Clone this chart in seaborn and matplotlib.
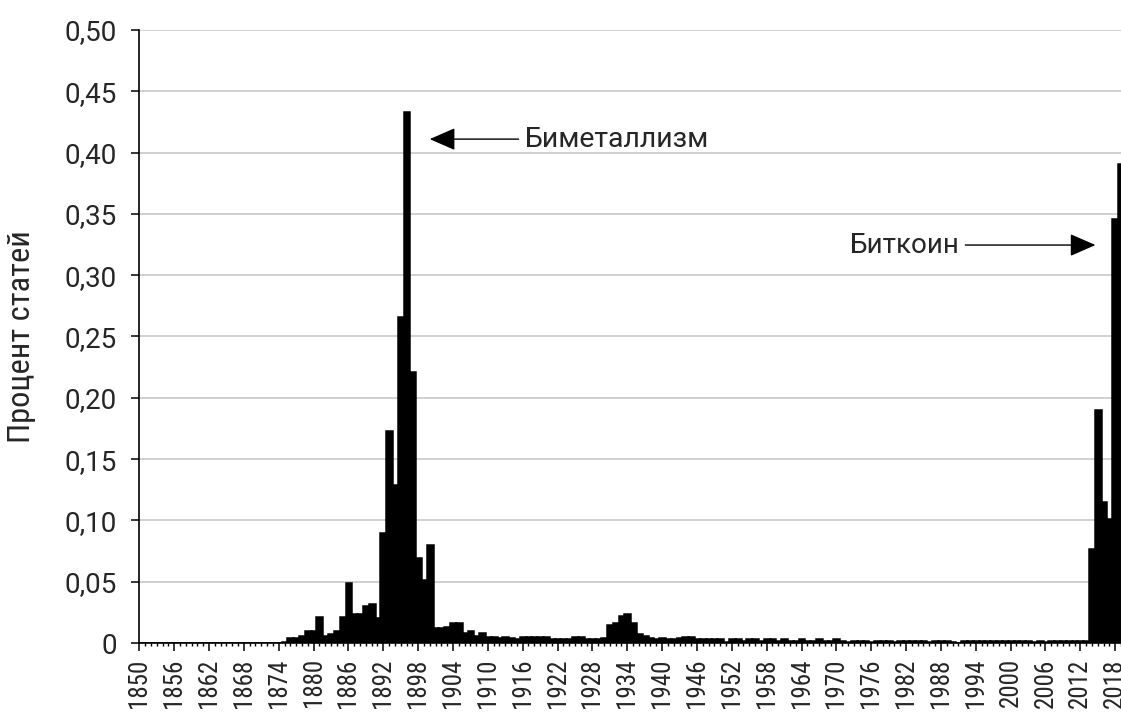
import os
import matplotlib
matplotlib.use("Agg")
import matplotlib.pyplot as plt
import seaborn as sns
import pandas as pd
from matplotlib import font_manager
from matplotlib.ticker import FuncFormatter, MultipleLocator

# share of articles per year, 1850-2019 (one list per decade)
d1850 = [0, 0, 0, 0, 0, 0, 0, 0, 0, 0]
d1860 = [0, 0, 0, 0, 0, 0, 0, 0, 0, 0]
d1870 = [0, 0, 0, 0, 0, 0.001, 0.004, 0.004, 0.006, 0.010]
d1880 = [0.010, 0.021, 0.006, 0.007, 0.010, 0.021, 0.049, 0.024, 0.024, 0.030]
d1890 = [0.032, 0.020, 0.090, 0.173, 0.129, 0.266, 0.433, 0.221, 0.069, 0.051]
d1900 = [0.080, 0.012, 0.012, 0.013, 0.016, 0.016, 0.008, 0.010, 0.006, 0.008]
d1910 = [0.005, 0.005, 0.004, 0.005, 0.004, 0.003, 0.005, 0.005, 0.005, 0.005]
d1920 = [0.005, 0.003, 0.003, 0.003, 0.003, 0.005, 0.005, 0.003, 0.003, 0.003]
d1930 = [0.004, 0.015, 0.016, 0.022, 0.024, 0.016, 0.007, 0.006, 0.004, 0.003]
d1940 = [0.004, 0.003, 0.003, 0.004, 0.005, 0.005, 0.003, 0.003, 0.003, 0.003]
d1950 = [0.003, 0.001, 0.003, 0.003, 0.002, 0.003, 0.003, 0.002, 0.003, 0.003]
d1960 = [0.002, 0.003, 0.002, 0.002, 0.003, 0.002, 0.002, 0.003, 0.002, 0.002]
d1970 = [0.003, 0.002, 0.001, 0.002, 0.002, 0.002, 0.001, 0.002, 0.002, 0.002]
d1980 = [0.001, 0.002, 0.002, 0.002, 0.002, 0.002, 0.001, 0.002, 0.002, 0.002]
d1990 = [0.001, 0.000, 0.002, 0.002, 0.002, 0.002, 0.002, 0.002, 0.002, 0.002]
d2000 = [0.002, 0.002, 0.002, 0.002, 0.001, 0.002, 0.001, 0.002, 0.002, 0.002]
d2010 = [0.002, 0.002, 0.002, 0.002, 0.077, 0.190, 0.115, 0.101, 0.346, 0.391]

years = list(range(1850, 2020))
share = (d1850 + d1860 + d1870 + d1880 + d1890 + d1900 + d1910 + d1920 + d1930
         + d1940 + d1950 + d1960 + d1970 + d1980 + d1990 + d2000 + d2010)
tick_years = list(range(1850, 2019, 6))

ylabel = "Процент статей"
label_bimet = "Биметаллизм"
label_btc = "Биткоин"

sns.set_style("white")
plt.rcParams["font.family"] = ["Roboto", "DejaVu Sans"]

# narrow face for the rotated texts, if one is installed
files = {os.path.basename(f.fname): f.fname for f in font_manager.fontManager.ttflist}
narrow_fp = None
for fn, size in [("LiberationSansNarrow-Regular.ttf", 20),
                 ("RobotoCondensed-Regular.ttf", 18),
                 ("DejaVuSansCondensed.ttf", 16)]:
    if fn in files:
        narrow_fp = font_manager.FontProperties(fname=files[fn], size=size)
        break
if narrow_fp is None:
    narrow_fp = font_manager.FontProperties(family="Roboto", size=16)
ylab_fp = narrow_fp.copy()
ylab_fp.set_size(narrow_fp.get_size() * 1.3)

df = pd.DataFrame({"year": [str(y) for y in years], "share": share})

fig = plt.figure(figsize=(11.21, 7.16), dpi=100)
ax = fig.add_axes([139.3 / 1121, 73 / 716, 1 - 139.3 / 1121, 613 / 716])

sns.barplot(data=df, x="year", y="share", color="black", saturation=1,
            width=1.0, edgecolor="black", linewidth=1.8, ax=ax)

ax.set_xlim(0, 169)
ax.set_ylim(0, 0.5)
ax.yaxis.set_major_locator(MultipleLocator(0.05))
ax.yaxis.set_major_formatter(FuncFormatter(
    lambda v, p: "0" if abs(v) < 1e-9 else f"{v:.2f}".replace(".", ",")))

idx = [years.index(y) for y in tick_years]
ax.set_xticks(idx)
ax.set_xticklabels([str(y) for y in tick_years], rotation=90,
                   fontproperties=narrow_fp)
ax.set_xticks(range(len(years)), minor=True)
ax.set_xlabel("")
ax.set_ylabel("")

ax.tick_params(axis="x", which="major", length=6, width=1.1, color="black",
               pad=5, bottom=True)
ax.tick_params(axis="x", which="minor", length=2.5, width=1.0, color="black",
               bottom=True)
ax.tick_params(axis="y", which="major", length=6, width=1.1, color="black",
               pad=10, labelsize=20, left=True)

ax.set_axisbelow(True)
ax.yaxis.grid(True, color="#c8c8c8", linewidth=1.2)
ax.xaxis.grid(False)
sns.despine(ax=ax)
for s in ["left", "bottom"]:
    ax.spines[s].set_color("black")
    ax.spines[s].set_linewidth(1.2)
ax.spines["bottom"].set_zorder(5)

fig.text(22 / 1121, 1 - 337 / 716, ylabel, rotation=90, ha="center",
         va="center", fontproperties=ylab_fp)

arrow = dict(arrowstyle="-|>,head_length=0.8,head_width=0.35", color="black",
             lw=1.0, mutation_scale=20, shrinkA=0, shrinkB=0)
ax.annotate("", xy=(50.0, 0.411), xytext=(65.3, 0.411), arrowprops=arrow)
ax.text(66.3, 0.411, label_bimet, ha="left", va="center", fontsize=20.5)
ax.annotate("", xy=(164.6, 0.3246), xytext=(142.2, 0.3246), arrowprops=arrow)
ax.text(141.3, 0.3246, label_btc, ha="right", va="center", fontsize=20)

fig.savefig("out.png", dpi=100)
